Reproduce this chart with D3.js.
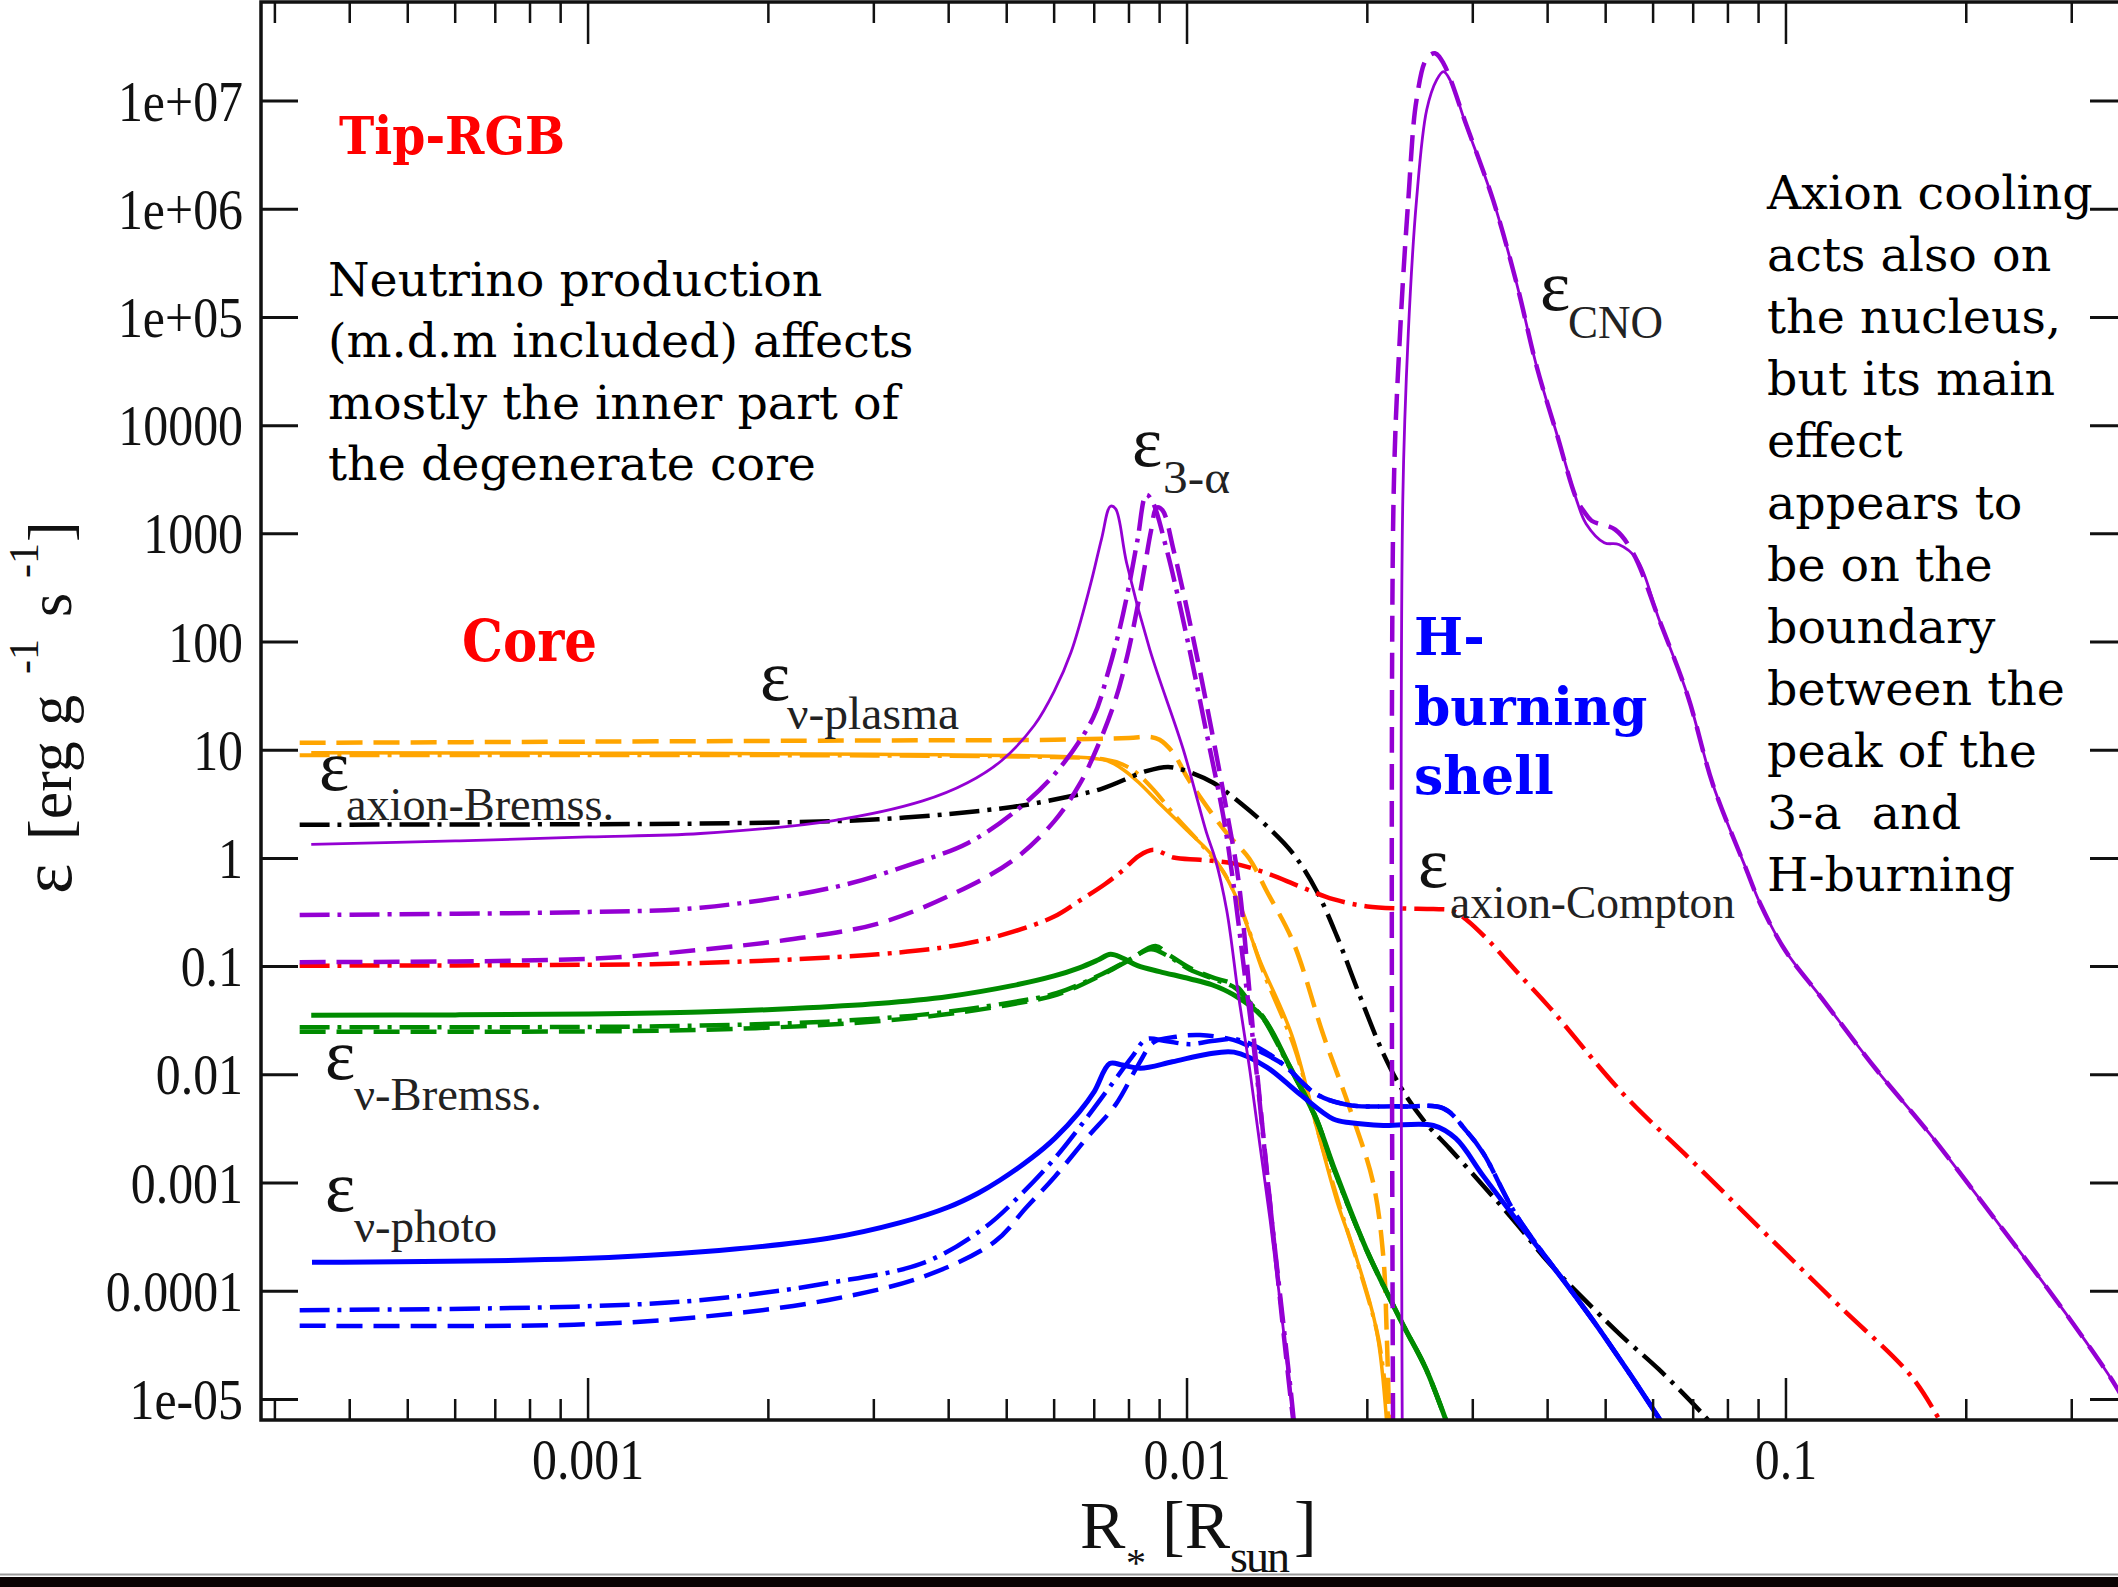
<!DOCTYPE html>
<html>
<head>
<meta charset="utf-8">
<script src="https://cdn.jsdelivr.net/npm/d3@7"></script>
<style>
  html, body { margin: 0; padding: 0; background: #ffffff; }
  svg { display: block; }
  .pre { white-space: pre; }
</style>
</head>
<body>
<svg id="chart" width="2118" height="1587"></svg>
<script>
// ---------------------------------------------------------------
// Energy generation / loss rates in a tip-RGB star vs radius.
// Each series: [R (R_sun), epsilon (erg g^-1 s^-1)]
// Line styles: solid = standard, dashed / dash-dot = modified physics
// ---------------------------------------------------------------

// triple-alpha
const alpha3Solid = [[3.45e-4,1.35],[6e-4,1.45],[1.0e-3,1.58],[1.54e-3,1.7],[2.57e-3,2.24],[3.62e-3,3.4],[4.3e-3,5.0],[4.9e-3,8.0],[5.56e-3,17],[6.0e-3,35],[6.4e-3,80],[6.89e-3,330],[7.2e-3,900],[7.45e-3,1800],[7.6e-3,1700],[7.93e-3,535],[8.67e-3,84.5],[9.86e-3,10.1],[0.01078,1.72],[0.01114,1.0],[0.01165,0.33],[0.01218,0.055],[0.01274,0.0107],[0.01324,0.0022],[0.01376,4.6e-4],[0.01449,4.3e-5],[0.0152,4e-6]];
const alpha3DashDot = [[3.3e-4,0.3],[1e-3,0.32],[1.54e-3,0.35],[2.57e-3,0.54],[3.5e-3,0.9],[4.31e-3,1.39],[5.2e-3,2.8],[6.07e-3,6.4],[6.97e-3,20],[7.4e-3,55],[7.72e-3,133],[8.0e-3,330],[8.27e-3,890],[8.55e-3,2300],[8.75e-3,2000],[9.25e-3,710],[9.99e-3,112],[0.01078,14.4],[0.0115,2.43],[0.01195,0.59],[0.0125,0.08],[0.0129,0.02],[0.01385,4.6e-4],[0.0149,1.2e-5],[0.0152,4e-6]];
const alpha3Dashed = [[3.3e-4,0.11],[1e-3,0.118],[1.54e-3,0.143],[2.2e-3,0.18],[3.05e-3,0.25],[4.0e-3,0.45],[5.11e-3,0.95],[6.0e-3,2.2],[6.61e-3,4.8],[7.1e-3,11],[7.59e-3,29],[7.95e-3,75],[8.27e-3,214],[8.5e-3,500],[8.71e-3,1076],[8.9e-3,1750],[9.1e-3,1650],[9.5e-3,700],[0.0102,120],[0.011,15],[0.0117,2.4],[0.0122,0.6],[0.01291,0.0233],[0.01385,4.6e-4],[0.0149,1e-5],[0.0152,4e-6]];

// CNO cycle (H-burning shell)
const cnoSolid = [[0.02288,3e-6],[0.02292,2000],[0.02341,7.1e4],[0.02416,1.2e6],[0.02513,8.3e6],[0.02611,1.57e7],[0.0268,1.87e7],[0.02748,1.57e7],[0.0293,5.8e6],[0.03246,1.2e6],[0.0355,2.07e5],[0.03836,3.5e4],[0.0414,8500],[0.0447,2056],[0.04637,1241],[0.04973,828],[0.05259,797],[0.05639,582],[0.06131,165],[0.06854,31.9],[0.07553,4.8],[0.08563,0.82],[0.09051,0.385],[0.0998,0.14],[0.1147,0.0512],[0.1414,0.01125],[0.1742,0.0028],[0.2147,6.17e-4],[0.2646,1.35e-4],[0.3172,3.38e-5],[0.3583,1.23e-5],[0.39,5e-6]];
const cnoDashed = [[0.02209,3e-6],[0.02212,2056],[0.02268,7.1e4],[0.02341,1.21e6],[0.02416,1.02e7],[0.02513,2.48e7],[0.02594,2.76e7],[0.0268,2.23e7],[0.0293,5.9e6],[0.03246,1.2e6],[0.0355,2.07e5],[0.03836,3.5e4],[0.0414,8500],[0.0447,2100],[0.04605,1596],[0.04737,1321],[0.05187,1093],[0.05559,660],[0.06131,165],[0.06854,31.9],[0.07553,4.8],[0.08563,0.82],[0.09051,0.385],[0.0998,0.14],[0.1147,0.0512],[0.1414,0.01125],[0.1742,0.0028],[0.2147,6.17e-4],[0.2646,1.35e-4],[0.3172,3.38e-5],[0.3583,1.23e-5],[0.39,5e-6]];

// neutrino plasma losses
const plasmaSolid = [[3.45e-4,9.5],[1e-3,9.4],[3e-3,9.2],[6e-3,8.8],[7.0e-3,8.4],[7.35e-3,8.0],[7.83e-3,6.6],[8.33e-3,4.95],[8.99e-3,3.24],[9.99e-3,1.83],[0.01106,1.04],[0.01195,0.5],[0.01324,0.113],[0.01496,0.0233],[0.01646,0.00326],[0.0178,6.76e-4],[0.01916,2.07e-4],[0.02073,4.3e-5],[0.0216,5e-6]];
const plasmaDashDot = [[3.3e-4,9.0],[1e-3,9.0],[3e-3,8.9],[6e-3,8.6],[7.3e-3,8.2],[7.8e-3,7.4],[8.2e-3,6.3],[8.8e-3,4.3],[9.6e-3,2.4],[0.0105,1.4],[0.0115,0.75],[0.0123,0.35],[0.0134,0.09],[0.0151,0.018],[0.0166,0.0028],[0.018,6e-4],[0.0194,1.6e-4],[0.0209,3.5e-5],[0.0218,5e-6]];
const plasmaDashed = [[3.3e-4,11.7],[1e-3,12.0],[3e-3,12.3],[6e-3,12.5],[8.0e-3,13.0],[8.67e-3,13.3],[9.0e-3,12.5],[9.49e-3,9.4],[9.99e-3,5.7],[0.01051,3.72],[0.01165,1.71],[0.0127,1.0],[0.01358,0.5],[0.01505,0.167],[0.01689,0.0233],[0.01871,0.00483],[0.02046,0.001],[0.02127,2.07e-4],[0.02154,4.3e-5],[0.0218,4e-6]];

// axion bremsstrahlung
const axionBrems = [[3.3e-4,2.05],[1e-3,2.07],[1.54e-3,2.1],[3.05e-3,2.3],[5.11e-3,2.99],[6.3e-3,3.7],[7.2e-3,4.4],[8.55e-3,6.4],[9.3e-3,7.0],[0.01,6.4],[0.01106,5.0],[0.01232,3.2],[0.01358,2.0],[0.01505,1.1],[0.01646,0.5],[0.0178,0.19],[0.01945,0.053],[0.02127,0.0157],[0.0229,0.0072],[0.02502,0.0036],[0.0274,0.0021],[0.0312,9.5e-4],[0.0355,4.2e-4],[0.0403,1.8e-4],[0.0476,7.0e-5],[0.0533,3.8e-5],[0.0613,1.9e-5],[0.0725,7.4e-6],[0.08,4e-6]];

// axion Compton
const axionCompton = [[3.3e-4,0.102],[1e-3,0.104],[1.54e-3,0.108],[3.05e-3,0.13],[4.2e-3,0.16],[5.11e-3,0.209],[6.0e-3,0.29],[6.61e-3,0.405],[7.3e-3,0.58],[7.82e-3,0.78],[8.3e-3,1.05],[8.79e-3,1.2],[9.49e-3,1.02],[0.01051,0.97],[0.01195,0.9],[0.01358,0.73],[0.01544,0.55],[0.01754,0.42],[0.02,0.36],[0.02277,0.345],[0.02578,0.34],[0.0277,0.33],[0.0293,0.27],[0.032,0.17],[0.0355,0.09],[0.0403,0.042],[0.0533,0.0068],[0.0706,0.00149],[0.0931,3.27e-4],[0.1231,7.2e-5],[0.1627,1.58e-5],[0.185,5e-6]];

// neutrino bremsstrahlung
const nuBremsSolid = [[3.45e-4,0.0355],[6e-4,0.0358],[1e-3,0.0365],[1.54e-3,0.038],[2.2e-3,0.041],[3.05e-3,0.0456],[4.0e-3,0.053],[5.11e-3,0.0667],[6.0e-3,0.082],[6.61e-3,0.0975],[7.1e-3,0.115],[7.45e-3,0.13],[7.8e-3,0.12],[8.27e-3,0.102],[9.0e-3,0.09],[0.0101,0.0773],[0.011,0.068],[0.01195,0.055],[0.01336,0.0343],[0.01478,0.0125],[0.01643,0.0039],[0.01754,0.00145],[0.01993,2.43e-4],[0.0229,5.0e-5],[0.02502,1.95e-5],[0.0275,5e-6]];
const nuBremsDashed = [[3.3e-4,0.025],[1e-3,0.0252],[1.54e-3,0.026],[2.5e-3,0.029],[3.62e-3,0.0342],[5.0e-3,0.044],[6.07e-3,0.0552],[7.2e-3,0.0836],[7.99e-3,0.114],[8.86e-3,0.155],[9.3e-3,0.13],[0.0101,0.0975],[0.011,0.08],[0.01206,0.0667],[0.0128,0.045],[0.01336,0.035],[0.01478,0.0125],[0.01643,0.004],[0.01754,0.0014],[0.01993,2.45e-4],[0.0229,5.0e-5],[0.02502,1.95e-5],[0.0275,5e-6]];
const nuBremsDashDot = [[3.3e-4,0.0275],[1e-3,0.0277],[1.54e-3,0.0285],[2.5e-3,0.031],[3.62e-3,0.036],[5.0e-3,0.046],[6.07e-3,0.057],[7.2e-3,0.085],[7.99e-3,0.115],[8.7e-3,0.145],[9.3e-3,0.125],[0.0101,0.094],[0.011,0.078],[0.01206,0.063],[0.0128,0.044],[0.01336,0.034],[0.01478,0.0122],[0.01643,0.0039],[0.01754,0.0014],[0.01993,2.4e-4],[0.0229,5.0e-5],[0.02502,1.95e-5],[0.0275,5e-6]];

// neutrino photo-production
const photoSolid = [[3.46e-4,1.85e-4],[9.48e-4,1.99e-4],[1.55e-3,2.31e-4],[2.52e-3,3.08e-4],[3.32e-3,4.3e-4],[4.0e-3,6.0e-4],[4.47e-3,8.0e-4],[4.87e-3,1.06e-3],[5.5e-3,1.7e-3],[6.02e-3,2.6e-3],[6.6e-3,4.5e-3],[7.0e-3,7e-3],[7.43e-3,0.0127],[7.8e-3,0.0123],[8.36e-3,0.0115],[9.45e-3,0.0132],[0.0108,0.0155],[0.01198,0.0162],[0.01358,0.0118],[0.01544,0.0066],[0.01754,0.0039],[0.01876,0.0036],[0.02127,0.0034],[0.02578,0.0034],[0.0281,0.00258],[0.0312,0.00117],[0.0355,4.56e-4],[0.0433,1.1e-4],[0.049,4.3e-5],[0.0616,6.5e-6],[0.065,4e-6]];
const photoDashDot = [[3.3e-4,6.67e-5],[9.48e-4,7.2e-5],[1.55e-3,8.3e-5],[2.52e-3,1.19e-4],[3.65e-3,1.85e-4],[4.6e-3,3.9e-4],[5.3e-3,8.0e-4],[6.02e-3,1.7e-3],[6.8e-3,4.0e-3],[7.4e-3,7.5e-3],[8.1e-3,0.0147],[8.55e-3,0.0213],[9.2e-3,0.0205],[0.0101,0.0192],[0.011,0.0205],[0.01206,0.0213],[0.01336,0.017],[0.01449,0.0124],[0.01646,0.0066],[0.01871,0.00524],[0.0229,0.0051],[0.02679,0.0049],[0.0293,0.003],[0.0312,0.0019],[0.0355,5e-4],[0.0433,1.1e-4],[0.049,4.3e-5],[0.0616,6.5e-6],[0.065,4e-6]];
const photoDashed = [[3.3e-4,4.8e-5],[9.48e-4,4.9e-5],[1.55e-3,5.8e-5],[2.52e-3,8.3e-5],[3.65e-3,1.38e-4],[4.77e-3,2.86e-4],[5.4e-3,6.0e-4],[6.02e-3,1.15e-3],[6.8e-3,2.6e-3],[7.6e-3,5.3e-3],[8.3e-3,0.0125],[8.8e-3,0.02],[9.6e-3,0.0225],[0.01051,0.0233],[0.01195,0.021],[0.01336,0.016],[0.01449,0.0124],[0.01646,0.0066],[0.01871,0.00524],[0.0229,0.0051],[0.02679,0.0049],[0.0293,0.003],[0.0312,0.0019],[0.0355,5e-4],[0.0433,1.1e-4],[0.049,4.3e-5],[0.0616,6.5e-6],[0.065,4e-6]];

// axis ticks
const yTickValues = [1e-5, 1e-4, 1e-3, 1e-2, 1e-1, 1, 10, 100, 1000, 1e4, 1e5, 1e6, 1e7];
const yTickLabels = ["1e-05", "0.0001", "0.001", "0.01", "0.1", "1", "10", "100", "1000", "10000", "1e+05", "1e+06", "1e+07"];
const xTickValues = [0.001, 0.01, 0.1];
const xTickLabels = ["0.001", "0.01", "0.1"];

// annotation text
const noteLeft = ["Neutrino production", "(m.d.m included) affects", "mostly the inner part of", "the degenerate core"];
const noteRight = ["Axion cooling", "acts also on", "the nucleus,", "but its main", "effect", "appears to", "be on the", "boundary", "between the", "peak of the", "3-a  and", "H-burning"];
const shellLines = ["H-", "burning", "shell"];

// ---------------------------------------------------------------
const W = 2118, H = 1587;
const plot = { left: 261, right: 2127, top: 2, bottom: 1420 };

const svg = d3.select("#chart");
svg.append("rect").attr("width", W).attr("height", H).attr("fill", "#fff");

const x = d3.scaleLog().domain([2.844e-4, 0.371]).range([plot.left, plot.right]);
const y = d3.scaleLog().domain([6.45e-6, 8.23e7]).range([plot.bottom, plot.top]);

const VIOLET = "#9400d3", ORANGE = "#ffa500", GREEN = "#008b00", BLUE = "#0000ff", RED = "#ff0000", BLACK = "#000000";
const DASH = "26,11", DASHDOT = "30,8,4,8";

svg.append("defs").append("clipPath").attr("id", "plotClip")
  .append("rect")
  .attr("x", plot.left).attr("y", plot.top)
  .attr("width", plot.right - plot.left).attr("height", plot.bottom - plot.top);

const series = [
  { data: plasmaDashDot, color: ORANGE, dash: DASHDOT, w: 4 },
  { data: plasmaSolid,   color: ORANGE, dash: null,    w: 3.5 },
  { data: plasmaDashed,  color: ORANGE, dash: DASH,    w: 4.5 },
  { data: axionBrems,    color: BLACK,  dash: DASHDOT, w: 4.5 },
  { data: axionCompton,  color: RED,    dash: DASHDOT, w: 4.5 },
  { data: nuBremsDashed, color: GREEN,  dash: DASH,    w: 4.5 },
  { data: nuBremsDashDot,color: GREEN,  dash: DASHDOT, w: 4.5 },
  { data: nuBremsSolid,  color: GREEN,  dash: null,    w: 5 },
  { data: photoDashed,   color: BLUE,   dash: DASH,    w: 4.5 },
  { data: photoDashDot,  color: BLUE,   dash: DASHDOT, w: 4.5 },
  { data: photoSolid,    color: BLUE,   dash: null,    w: 5 },
  { data: alpha3DashDot, color: VIOLET, dash: DASHDOT, w: 4.5 },
  { data: alpha3Dashed,  color: VIOLET, dash: DASH,    w: 4.5 },
  { data: alpha3Solid,   color: VIOLET, dash: null,    w: 2.8 },
  { data: cnoDashed,     color: VIOLET, dash: DASH,    w: 4.5 },
  { data: cnoSolid,      color: VIOLET, dash: null,    w: 2.8 }
];

const line = d3.line()
  .x(d => x(d[0]))
  .y(d => y(d[1]))
  .curve(d3.curveCatmullRom.alpha(0.5));

const curves = svg.append("g").attr("clip-path", "url(#plotClip)");
series.forEach(s => {
  curves.append("path")
    .attr("d", line(s.data))
    .attr("fill", "none")
    .attr("stroke", s.color)
    .attr("stroke-width", s.w)
    .attr("stroke-dasharray", s.dash)
    .attr("stroke-linejoin", "round");
});

// ---------------- frame and ticks ----------------
const axisG = svg.append("g").attr("stroke", "#111").attr("fill", "none");

// minor + major x ticks (bottom and top, pointing inward)
const xMinor = [];
for (let e = -4; e <= -1; e++) {
  for (let m = 2; m <= 9; m++) {
    const v = m * Math.pow(10, e);
    if (v > x.domain()[0] && v < x.domain()[1]) xMinor.push(v);
  }
}
xMinor.forEach(v => {
  axisG.append("line").attr("x1", x(v)).attr("x2", x(v)).attr("y1", plot.bottom).attr("y2", plot.bottom - 21).attr("stroke-width", 2.5);
  axisG.append("line").attr("x1", x(v)).attr("x2", x(v)).attr("y1", plot.top).attr("y2", plot.top + 21).attr("stroke-width", 2.5);
});
xTickValues.forEach(v => {
  axisG.append("line").attr("x1", x(v)).attr("x2", x(v)).attr("y1", plot.bottom).attr("y2", plot.bottom - 42).attr("stroke-width", 2.5);
  axisG.append("line").attr("x1", x(v)).attr("x2", x(v)).attr("y1", plot.top).attr("y2", plot.top + 42).attr("stroke-width", 2.5);
});
yTickValues.forEach(v => {
  axisG.append("line").attr("x1", plot.left).attr("x2", plot.left + 37).attr("y1", y(v)).attr("y2", y(v)).attr("stroke-width", 3);
  axisG.append("line").attr("x1", plot.right).attr("x2", plot.right - 37).attr("y1", y(v)).attr("y2", y(v)).attr("stroke-width", 3);
});
axisG.append("rect")
  .attr("x", plot.left).attr("y", plot.top)
  .attr("width", plot.right - plot.left).attr("height", plot.bottom - plot.top)
  .attr("stroke-width", 3.5);

// ---------------- tick labels ----------------
const serif = "'Liberation Serif', 'Times New Roman', serif";
const tickG = svg.append("g").attr("font-family", serif).attr("font-size", 58).attr("fill", "#111");
yTickValues.forEach((v, i) => {
  tickG.append("text")
    .attr("transform", `translate(243,${y(v) + 19.5}) scale(0.86,1)`)
    .attr("text-anchor", "end")
    .text(yTickLabels[i]);
});
xTickValues.forEach((v, i) => {
  tickG.append("text")
    .attr("transform", `translate(${x(v)},1479) scale(0.86,1)`)
    .attr("text-anchor", "middle")
    .text(xTickLabels[i]);
});

// ---------------- axis titles ----------------
const xt = svg.append("text").attr("font-family", serif).attr("fill", "#111");
xt.append("tspan").attr("x", 1080).attr("y", 1548).attr("font-size", 68).text("R");
xt.append("tspan").attr("x", 1126).attr("y", 1576).attr("font-size", 40).text("*");
xt.append("tspan").attr("x", 1162).attr("y", 1548).attr("font-size", 68).text("[R");
xt.append("tspan").attr("x", 1230).attr("y", 1572).attr("font-size", 46).attr("textLength", 60).text("sun");
xt.append("tspan").attr("x", 1294).attr("y", 1548).attr("font-size", 68).text("]");

const yt = svg.append("text").attr("font-family", serif).attr("fill", "#111")
  .attr("transform", "translate(71,894) rotate(-90)");
yt.append("tspan").attr("x", 0).attr("y", 0).attr("font-size", 72).text("ε");
yt.append("tspan").attr("x", 54).attr("y", 0).attr("font-size", 62).text("[erg g");
yt.append("tspan").attr("x", 220).attr("y", -33).attr("font-size", 42).text("-1");
yt.append("tspan").attr("x", 277).attr("y", 0).attr("font-size", 62).text("s");
yt.append("tspan").attr("x", 316).attr("y", -33).attr("font-size", 42).text("-1");
yt.append("tspan").attr("x", 352).attr("y", 0).attr("font-size", 62).text("]");

// ---------------- curve labels ----------------
function epsLabel(xe, ye, sub, xs, ys, ws) {
  svg.append("text").attr("x", xe).attr("y", ye)
    .attr("font-family", serif).attr("font-size", 72).attr("fill", "#111").text("ε");
  svg.append("text").attr("x", xs).attr("y", ys)
    .attr("font-family", serif).attr("font-size", 46).attr("fill", "#222")
    .attr("textLength", ws).attr("lengthAdjust", "spacingAndGlyphs").text(sub);
}
epsLabel(1540, 310, "CNO", 1568, 338, 95);
epsLabel(1132, 466, "3-α", 1163, 493, 67);
epsLabel(760, 700, "ν-plasma", 787, 729, 172);
epsLabel(319, 790, "axion-Bremss.", 346, 820, 268);
epsLabel(325, 1079, "ν-Bremss.", 354, 1110, 188);
epsLabel(325, 1211, "ν-photo", 354, 1242, 143);
epsLabel(1418, 887, "axion-Compton", 1450, 918, 285);

// ---------------- annotations ----------------
const dvs = "'DejaVu Serif', serif";
svg.append("text").attr("x", 339).attr("y", 153.6)
  .attr("font-family", dvs).attr("font-weight", "bold").attr("font-size", 52).attr("fill", RED)
  .attr("textLength", 226).attr("lengthAdjust", "spacingAndGlyphs").text("Tip-RGB");
svg.append("text").attr("x", 462).attr("y", 661)
  .attr("font-family", dvs).attr("font-weight", "bold").attr("font-size", 58).attr("fill", RED)
  .attr("textLength", 135).attr("lengthAdjust", "spacingAndGlyphs").text("Core");
shellLines.forEach((t, i) => {
  svg.append("text").attr("x", 1414).attr("y", [655, 725, 794][i])
    .attr("font-family", dvs).attr("font-weight", "bold").attr("font-size", 52).attr("fill", BLUE).text(t);
});
noteLeft.forEach((t, i) => {
  svg.append("text").attr("x", 328).attr("y", 295.7 + 61.5 * i)
    .attr("font-family", dvs).attr("font-size", 47.5).attr("fill", "#000").text(t);
});
noteRight.forEach((t, i) => {
  svg.append("text").attr("class", "pre").attr("x", 1767).attr("y", 209 + 62 * i)
    .attr("font-family", dvs).attr("font-size", 47.5).attr("fill", "#000").text(t);
});

// ---------------- page footer band ----------------
svg.append("line").attr("x1", 0).attr("x2", W).attr("y1", 1574.5).attr("y2", 1574.5)
  .attr("stroke", "#9a9a9a").attr("stroke-width", 2);
svg.append("rect").attr("x", 0).attr("y", 1577).attr("width", W).attr("height", 10).attr("fill", "#0a0202");
</script>
</body>
</html>
